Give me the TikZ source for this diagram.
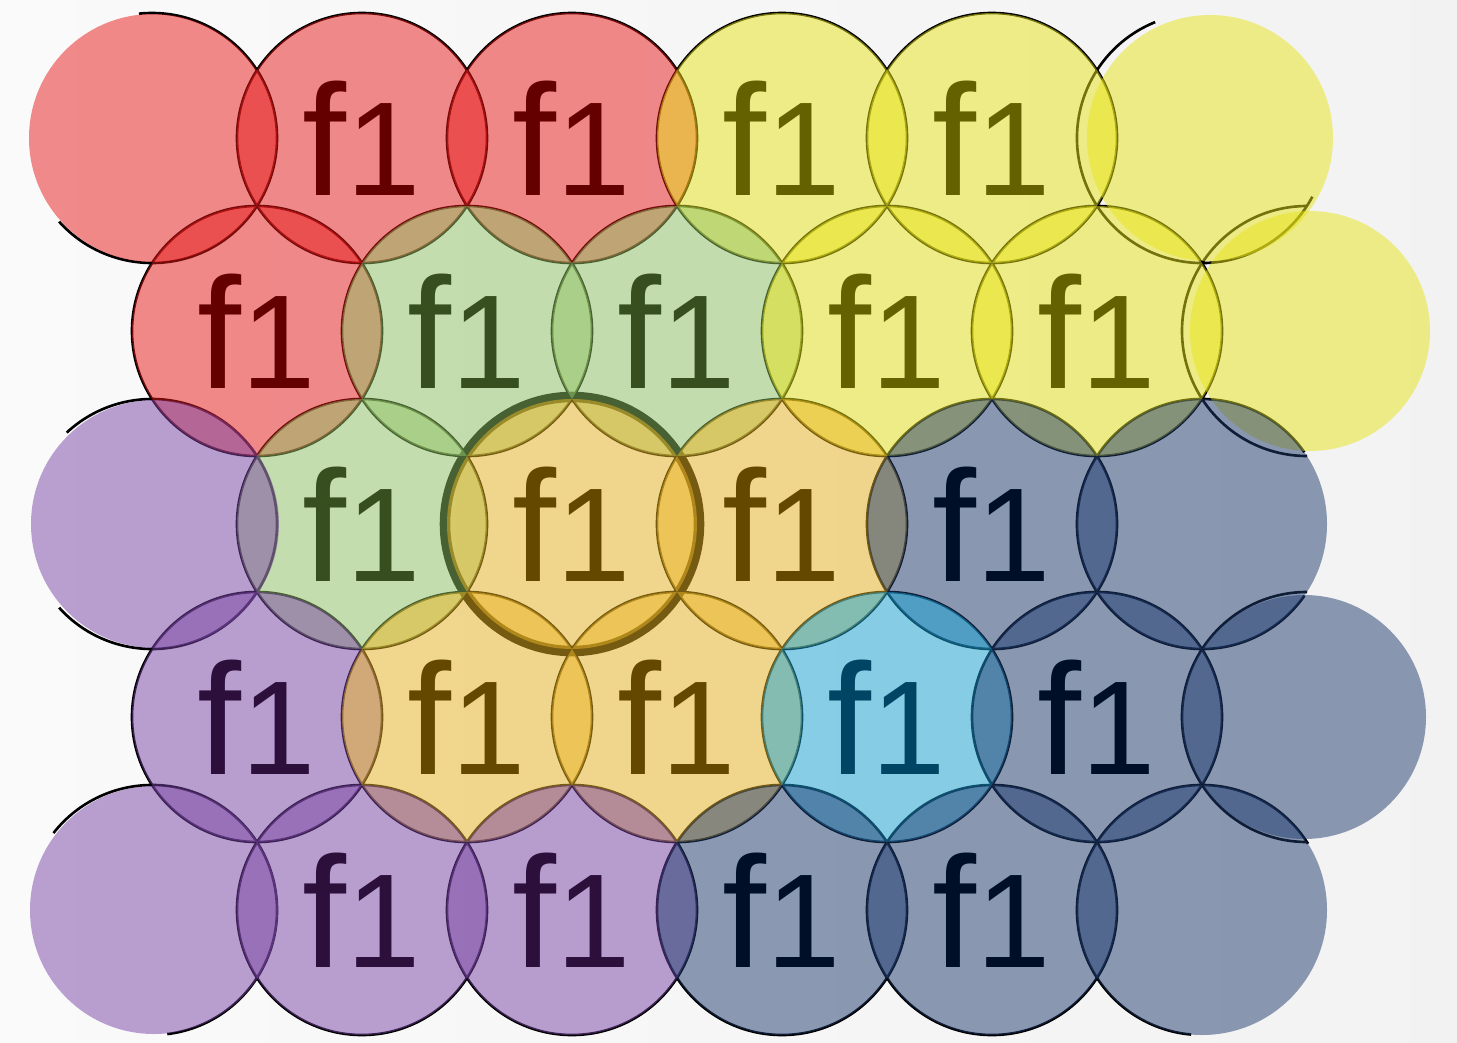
\documentclass[tikz,border=0pt]{standalone}
\usepackage{fontspec}
\setmainfont{Liberation Sans}
\usetikzlibrary{calc}
\usepackage{xcolor}
\definecolor{cellRed}{RGB}{232,25,25}
\definecolor{cellYellow}{RGB}{232,228,25}
\definecolor{cellGreen}{RGB}{145,195,101}
\definecolor{cellOrange}{RGB}{235,181,35}
\definecolor{cellNavy}{RGB}{31,59,111}
\definecolor{cellPurple}{RGB}{121,69,165}
\definecolor{cellBlue}{RGB}{25,165,215}
\definecolor{txtRed}{RGB}{100,0,0}
\definecolor{txtYellow}{RGB}{100,98,0}
\definecolor{txtGreen}{RGB}{55,78,30}
\definecolor{txtOrange}{RGB}{100,72,0}
\definecolor{txtNavy}{RGB}{0,15,40}
\definecolor{txtPurple}{RGB}{45,15,60}
\definecolor{txtBlue}{RGB}{0,70,100}

\begin{document}
\begin{tikzpicture}[
  x=0.01cm, y=0.01cm,
  rim/.style={draw=black, line width=0.75pt},
  ring/.style={draw=black, line width=3pt},
  cell/.style={fill=cell#1, fill opacity=0.5},
  lbl/.style={
    text=txt#1, inner sep=0pt,
    font=\fontsize{45}{45}\selectfont
  }
]
  \useasboundingbox (0,0) rectangle (1457,-1042);
  \shade[left color=white!98!black, right color=white!95!black]
    (0,0) rectangle (1457,-1042);

  % cell centres, row r / column k
  \foreach \r in {1,...,5}
    \foreach \k in {1,...,6} {
      \pgfmathsetmacro{\cx}{-58 + 210*\k + 105*(1 - mod(\r,2))}
      \pgfmathsetmacro{\cy}{-138 - 193*(\r-1)}
      \coordinate (c\r\k) at (\cx,\cy);
    }

  % outlines (under the fills)
  \foreach \n in {12,13,14,15, 21,22,23,24,25, 32,33,34,35,
                  41,42,43,44,45, 52,53,54,55}
    \draw[rim] (c\n) circle (125);
  \foreach \n/\a/\b in {11/-138/96, 16/112/332, 26/90/270,
                        31/-138/133, 36/35/325, 46/90/270,
                        51/-83/142, 56/32/265}
    \draw[rim] (c\n) ++(\a:125) arc[start angle=\a, end angle=\b, radius=125];
  \draw[ring] (c33) circle (127);

  % fills
  \foreach \n/\c in {12/Red, 13/Red, 14/Yellow, 15/Yellow,
                     21/Red, 22/Green, 23/Green, 24/Yellow, 25/Yellow,
                     32/Green, 33/Orange, 34/Orange, 35/Navy,
                     41/Purple, 42/Orange, 43/Orange, 44/Blue, 45/Navy,
                     52/Purple, 53/Purple, 54/Navy, 55/Navy}
    \fill[cell=\c] (c\n) circle (125);
  % edge cells, a little off the grid
  \foreach \n/\c/\d/\s in {11/Red/1/124, 16/Yellow/8/123, 26/Yellow/3/120,
                           31/Purple/3/124, 36/Navy/0/125, 46/Navy/-3/122,
                           51/Purple/2/124, 56/Navy/0/125}
    \fill[cell=\c] ($(c\n)+(\d,0)$) circle (\s);

  % Labels
  \foreach \n/\c in {12/Red, 13/Red, 14/Yellow, 15/Yellow,
                     21/Red, 22/Green, 23/Green, 24/Yellow, 25/Yellow,
                     32/Green, 33/Orange, 34/Orange, 35/Navy,
                     41/Purple, 42/Orange, 43/Orange, 44/Blue, 45/Navy,
                     52/Purple, 53/Purple, 54/Navy, 55/Navy}
    \node[lbl=\c] (f\n) at (c\n) {f{\fontsize{38}{38}\selectfont 1}};
\end{tikzpicture}
\end{document}
